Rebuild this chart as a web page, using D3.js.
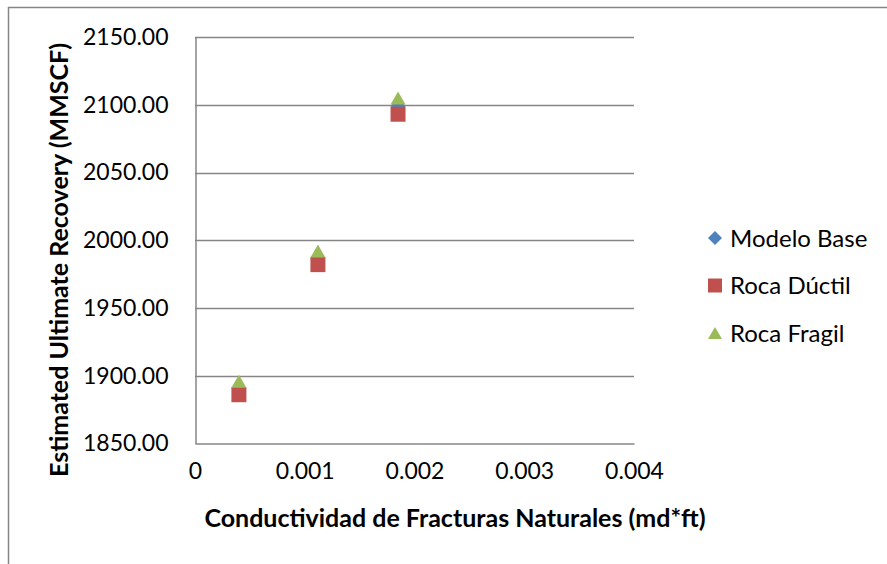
<!DOCTYPE html>
<html><head><meta charset="utf-8">
<script src="https://cdn.jsdelivr.net/npm/d3@7"></script>
<style>html,body{margin:0;padding:0;background:#fff;}svg{display:block;}</style>
</head><body>
<svg id="c" width="887" height="564"></svg>
<script>
const xValues = [0.0004, 0.00112, 0.00185];
const modeloBase = [1891, 1987, 2099];
const rocaDuctil = [1886, 1982, 2093];
const rocaFragil = [1896, 1992, 2105];
const xTicks = [0, 0.001, 0.002, 0.003, 0.004];
const yTicks = [1850, 1900, 1950, 2000, 2050, 2100, 2150];
const seriesNames = ["Modelo Base", "Roca Dúctil", "Roca Fragil"];
const seriesColors = ["#4F81BD", "#C0504D", "#9BBB59"];
const seriesShapes = ["diamond", "square", "triangle"];
const seriesValues = [modeloBase, rocaDuctil, rocaFragil];

const svg = d3.select("#c");
const font = "Lato, 'Open Sans', sans-serif";
const grid = "#868686";

// outer frame
svg.append("path").attr("d", "M8.5,564 L8.5,7.5 L887,7.5")
  .attr("fill", "none").attr("stroke", grid).attr("stroke-width", 1.5);

const x = d3.scaleLinear().domain([0, 0.004]).range([195, 634]);
const y = d3.scaleLinear().domain([1850, 2150]).range([443.5, 37]);

// gridlines
svg.append("g").selectAll("line").data(yTicks.filter(d => d > 1850)).join("line")
  .attr("x1", 195).attr("x2", 634)
  .attr("y1", d => Math.round(y(d)) + 0.5).attr("y2", d => Math.round(y(d)) + 0.5)
  .attr("stroke", grid).attr("stroke-width", 1.5);

// axes
const yAxis = svg.append("g").attr("transform", "translate(195.5,0)")
  .call(d3.axisLeft(y).tickValues(yTicks).tickSize(0).tickPadding(27).tickFormat(d3.format(".2f")));
const xAxis = svg.append("g").attr("transform", "translate(0,443.5)")
  .call(d3.axisBottom(x).tickValues(xTicks).tickSize(0).tickPadding(26).tickFormat(d => d === 0 ? "0" : d3.format(".3f")(d)));
[yAxis, xAxis].forEach(a => {
  a.select(".domain").attr("stroke", grid).attr("stroke-width", 1.5);
  a.selectAll("text").attr("font-family", font).attr("font-size", 23).attr("fill", "#000");
});
xAxis.selectAll("text").attr("dy", "0.42em");

// axis titles
svg.append("text").attr("x", 455).attr("y", 527).attr("text-anchor", "middle")
  .attr("font-family", font).attr("font-weight", "bold").attr("font-size", 25).attr("fill", "#000")
  .text("Conductividad de Fracturas Naturales (md*ft)");
svg.append("text").attr("transform", "translate(68,260) rotate(-90)").attr("text-anchor", "middle")
  .attr("font-family", font).attr("font-weight", "bold").attr("font-size", 25).attr("fill", "#000")
  .text("Estimated Ultimate Recovery (MMSCF)");

function shapePath(shape, s) {
  const h = s / 2;
  if (shape === "diamond") return `M0,${-h} L${h},0 L0,${h} L${-h},0 Z`;
  if (shape === "square") return `M${-h},${-h} H${h} V${h} H${-h} Z`;
  return `M0,${-h + 1} L${h},${h - 1} L${-h},${h - 1} Z`;
}

// markers
seriesValues.forEach((vals, i) => {
  svg.append("g").selectAll("path").data(vals).join("path")
    .attr("transform", (d, j) => `translate(${x(xValues[j])},${y(d)})`)
    .attr("d", shapePath(seriesShapes[i], 15))
    .attr("fill", seriesColors[i]);
});

// legend
const lg = svg.append("g");
seriesNames.forEach((n, i) => {
  const cy = 238 + i * 47.5;
  lg.append("path").attr("transform", `translate(715,${cy})`)
    .attr("d", shapePath(seriesShapes[i], 14)).attr("fill", seriesColors[i]);
  lg.append("text").attr("x", 730).attr("y", cy).attr("dy", "0.36em")
    .attr("font-family", font).attr("font-size", 24).attr("fill", "#000").text(n);
});
</script>
</body></html>
